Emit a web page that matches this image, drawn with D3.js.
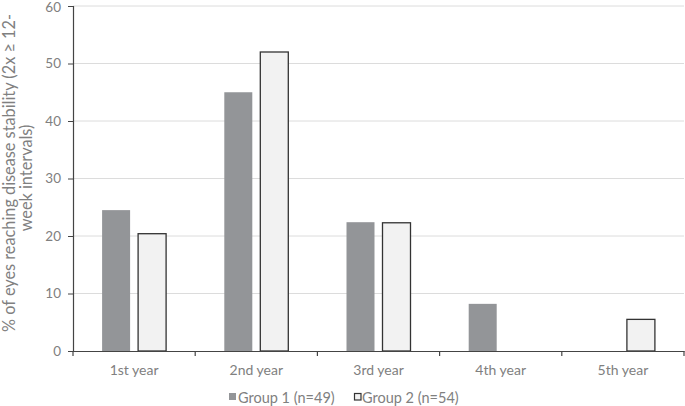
<!DOCTYPE html>
<html><head><meta charset="utf-8">
<script src="https://cdn.jsdelivr.net/npm/d3@7"></script>
<style>body{margin:0;background:#fff}svg{display:block}text{font-family:"Lato","Open Sans",sans-serif;fill:#808080}</style>
</head><body><svg id="c" width="685" height="406"></svg>
<script>
const categories = ["1st year","2nd year","3rd year","4th year","5th year"];
const group1 = [24.5, 45.0, 22.4, 8.2, 0];
const group2 = [20.4, 52.0, 22.3, 0, 5.5];
const seriesNames = ["Group 1 (n=49)","Group 2 (n=54)"];
const yTicks = [0,10,20,30,40,50,60];

const svg = d3.select("#c");
const m = {l:73, r:1, t:6, b:55};
const W = 685, H = 406;
const x = d3.scaleBand().domain(categories).range([m.l, W-m.r]);
const y = d3.scaleLinear().domain([0,60]).range([H-m.b, m.t]);

// gridlines
svg.append("g").selectAll("line").data(yTicks.filter(d=>d>0)).join("line")
  .attr("x1", m.l).attr("x2", W-m.r).attr("y1", d=>y(d)).attr("y2", d=>y(d))
  .attr("stroke", "#dcdcdc").attr("stroke-width", 1);

// bars
const bw = 28, gap = 8;
const g = svg.append("g");
categories.forEach((c,i)=>{
  const cx = x(c) + x.bandwidth()/2;
  if (group1[i] > 0) g.append("rect").attr("x", cx - gap/2 - bw).attr("width", bw)
    .attr("y", y(group1[i])).attr("height", y(0)-y(group1[i])).attr("fill", "#939598");
  if (group2[i] > 0) g.append("rect").attr("x", cx + gap/2).attr("width", bw)
    .attr("y", y(group2[i])).attr("height", y(0)-y(group2[i]))
    .attr("fill", "#f2f2f2").attr("stroke", "#333").attr("stroke-width", 1.3);
});

// y axis
const ya = svg.append("g").attr("transform", `translate(${m.l},0)`)
  .call(d3.axisLeft(y).tickValues(yTicks).tickSize(5).tickPadding(7));
ya.select(".domain").attr("stroke", "#444").attr("stroke-width", 1.2);
ya.selectAll(".tick line").attr("stroke", "#444");
ya.selectAll("text").attr("font-size", 13.5).attr("fill", "#808080").style("font-family", "Lato, sans-serif");
ya.selectAll(".tick").filter(d=>d===60).select("text").attr("dy", "0.4em");

// x axis
const xa = svg.append("g").attr("transform", `translate(0,${y(0)})`)
  .call(d3.axisBottom(x).tickSize(0).tickPadding(14));
xa.select(".domain").attr("stroke", "#444").attr("stroke-width", 1.2);
xa.selectAll("text").attr("font-size", 14).attr("fill", "#808080").style("font-family", "Lato, sans-serif");
const bounds = categories.map(c=>x(c)).concat([x(categories[categories.length-1]) + x.bandwidth()]);
svg.append("g").selectAll("line").data(bounds).join("line")
  .attr("x1", d=>d).attr("x2", d=>d).attr("y1", y(0)).attr("y2", y(0)+5)
  .attr("stroke", "#444").attr("stroke-width", 1.2);

// y title
const yt = svg.append("text").attr("transform", `translate(15,173) rotate(-90)`)
  .attr("text-anchor", "middle").attr("font-size", 16.3);
yt.append("tspan").attr("x", 0).attr("dy", 0).text("% of eyes reaching disease stability (2x \u2265 12-");
yt.append("tspan").attr("x", -5).attr("dy", 17).text("week intervals)");

// legend
const lg = svg.append("g").attr("transform", "translate(229,403)");
lg.append("rect").attr("x", 0).attr("y", -10).attr("width", 7).attr("height", 7).attr("fill", "#939598");
lg.append("text").attr("x", 9).attr("y", 0).attr("font-size", 14.5).text(seriesNames[0]);
lg.append("rect").attr("x", 125.5).attr("y", -9.5).attr("width", 6.5).attr("height", 6.5)
  .attr("fill", "#f2f2f2").attr("stroke", "#333").attr("stroke-width", 1.2);
lg.append("text").attr("x", 133).attr("y", 0).attr("font-size", 14.5).text(seriesNames[1]);
</script></body></html>
